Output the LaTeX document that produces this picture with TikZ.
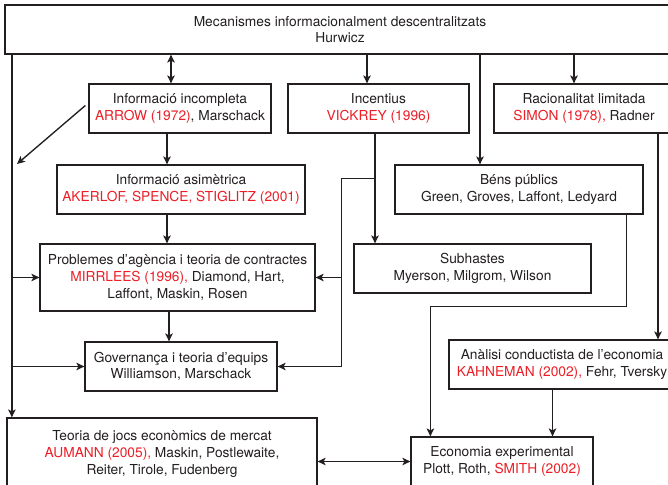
\documentclass[tikz,border=0pt]{standalone}
\usepackage{fontspec}
\setmainfont{TeX Gyre Heros}
\usepackage{xcolor}
\usetikzlibrary{arrows.meta,calc}
\definecolor{ink}{RGB}{35,31,32}
\definecolor{nobelred}{RGB}{236,30,38}
\newcommand{\nobel}[1]{\textcolor{nobelred}{#1}}

\begin{document}
\begin{tikzpicture}[
  x=1bp, y=-1bp,
  font=\fontsize{13.8}{16.6}\selectfont,
  text=ink,
  >={Stealth[length=8pt,width=7.5pt,inset=2pt]},
  box/.style={draw=ink, line width=1.25pt, align=center, inner sep=0pt, fill=white, minimum height=49bp},
  arr/.style={->, line width=1.35pt, draw=ink},
  dbl/.style={<->, line width=1.35pt, draw=ink},
]
\clip (0,0) rectangle (668,485);
\fill[white] (0,0) rectangle (668,485);
\node[box, minimum width=670bp] (hurwicz) at (340,29.5) {Mecanismes informacionalment descentralitzats\\ Hurwicz};
\node[box, minimum width=182bp] (incompl) at (180,108.5) {Informació incompleta\\ \nobel{ARROW (1972)}, Marschack};
\node[box, minimum width=181bp] (incent) at (378.5,108.5) {Incentius\\ \nobel{VICKREY (1996)}};
\node[box, minimum width=180bp] (racional) at (584,108.5) {Racionalitat limitada\\ \nobel{SIMON (1978),} Radner};
\node[box, minimum width=248bp] (asim) at (181,189.5) {Informació asimètrica\\ \nobel{AKERLOF, SPENCE, STIGLITZ (2001)}};
\node[box, minimum width=248bp] (bens) at (519,189.5) {Béns públics\\ Green, Groves, Laffont, Ledyard};
\node[box, minimum width=275bp, minimum height=67bp] (agencia) at (177.5,277.5) {Problemes d’agència i teoria de contractes\\ \nobel{MIRRLEES (1996),} Diamond, Hart,\\ Laffont, Maskin, Rosen};
\node[box, minimum width=237bp] (subhastes) at (472.5,268.5) {Subhastes\\ Myerson, Milgrom, Wilson};
\node[box, minimum width=192bp] (govern) at (181,366.5) {Governança i teoria d’equips\\ Williamson, Marschack};
\node[box, minimum width=226bp] (analisi) at (562,364.5) {Anàlisi conductista de l’economia\\ \nobel{KAHNEMAN (2002),} Fehr, Tversky};
\node[box, minimum width=310bp, minimum height=72bp] (teoria) at (162,454) {Teoria de jocs econòmics de mercat\\ \nobel{AUMANN (2005),} Maskin, Postlewaite,\\ Reiter, Tirole, Fudenberg};
\node[box, minimum width=182bp] (econ) at (502,461.5) {Economia experimental\\ Plott, Roth, \nobel{SMITH (2002)}};
\coordinate (spine) at ([xshift=5.5bp]teoria.north west);
\coordinate (diagend) at (17,164);
\coordinate (c-incompl) at ([xshift=-9bp]incompl.north);
\coordinate (c-incent) at ([xshift=-11.5bp]incent.north);
\coordinate (c-bens) at ([xshift=-39bp]bens.north);
\coordinate (c-racional) at ([xshift=-10bp]racional.north);
\coordinate (c1) at ([xshift=-13bp]incompl.south);
\coordinate (c2) at ([xshift=-14bp]asim.south);
\coordinate (c3) at ([xshift=-8.5bp]agencia.south);
\coordinate (c4) at ([xshift=-3.5bp]incent.south);
\coordinate (fork) at ($(c4)+(-33.5,45)$);
\coordinate (c5) at ([xshift=-17bp]bens.south east);
\coordinate (c6) at ([xshift=20bp]econ.north west);
\coordinate (c7) at ([xshift=74bp]racional.south);
\coordinate (c8) at ([xshift=-9.5bp]analisi.south);
\draw[dbl] (hurwicz.south -| c-incompl) -- (c-incompl);
\draw[arr] (hurwicz.south -| c-incent) -- (c-incent);
\draw[arr] (hurwicz.south -| c-bens) -- (c-bens);
\draw[arr] (hurwicz.south -| c-racional) -- (c-racional);
\draw[arr] (hurwicz.south -| spine) -- (spine);
\draw[arr] (agencia.west -| spine) -- (agencia.west);
\draw[arr] (govern.west -| spine) -- (govern.west);
\draw[arr] ([shift={(-3bp,3bp)}]incompl.west) -- (diagend);
\draw[arr] (c1) -- (c1 |- asim.north);
\draw[arr] (c2) -- (c2 |- agencia.north);
\draw[arr] (c3) -- (c3 |- govern.north);
\draw[arr] (c4) -- (c4 |- subhastes.north);
\draw[arr] (fork -| c4) -- (fork) |- (govern.east);
\draw[arr] (fork |- agencia.east) -- (agencia.east);
\draw[arr] (c5) |- ($(c6)+(0,-130)$) -- (c6);
\draw[arr] (c7) -- (c7 |- analisi.north);
\draw[arr] (c8) -- (c8 |- econ.north);
\draw[dbl] (econ.west -| teoria.east) -- (econ.west);
\end{tikzpicture}
\end{document}
